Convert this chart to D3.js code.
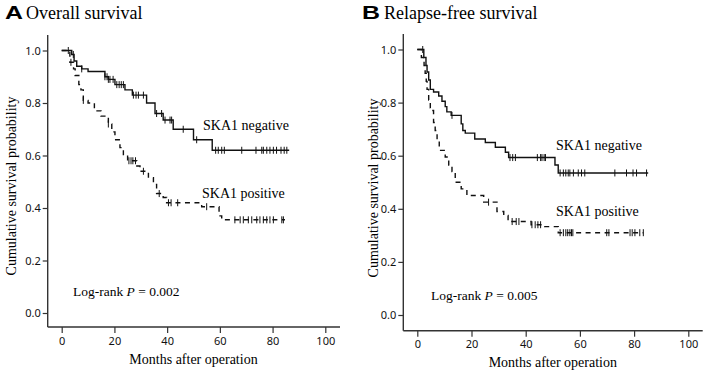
<!DOCTYPE html>
<html><head><meta charset="utf-8">
<script src="https://cdn.jsdelivr.net/npm/d3@7"></script>
<style>
html,body{margin:0;padding:0;background:#fff;}
svg{display:block;}
</style></head>
<body>
<svg id="chart" width="709" height="374"></svg>
<script>
// ---------- DATA ----------
const xTicks = [0, 20, 40, 60, 80, 100];
const yTicks = [0.0, 0.2, 0.4, 0.6, 0.8, 1.0];

// Panel A: Overall survival
const aNegTime = [0, 3.8, 4.7, 5.7, 7.6, 10, 16.4, 17.7, 20.2, 24, 26.8, 32.2, 35.4, 38.5, 42.3, 50, 57.1, 86.3];
const aNegSurv = [1.0, 0.985, 0.96, 0.94, 0.93, 0.92, 0.90, 0.89, 0.87, 0.85, 0.83, 0.80, 0.76, 0.735, 0.70, 0.66, 0.62, 0.62];
const aNegCens = [2.5, 4.4, 7.6, 16.4, 17.2, 17.7, 18.3, 19.5, 20.9, 21.8, 22.6, 23.4, 27.2, 28.2, 29.1, 31, 36, 37.9, 39.2, 41.1, 41.7, 46.1, 51.2,
                  58.4, 59.4, 60.7, 61.7, 68.3, 73.7, 75.9, 76.5, 77.8, 79, 80.3, 81.5, 83.2, 84.4, 85.4];
const aPosTime = [0, 3.1, 4.5, 5.1, 6.5, 7.3, 8.2, 10, 12.4, 14.9, 17.7, 19, 20.2, 22.1, 23.4, 25, 28.5, 29.7, 32.9, 34.8, 36, 38.5, 39.8, 53.1, 59.7, 60.7, 84.7];
const aPosSurv = [1.0, 0.955, 0.93, 0.905, 0.87, 0.85, 0.81, 0.80, 0.77, 0.75, 0.72, 0.69, 0.66, 0.63, 0.60, 0.58, 0.56, 0.54, 0.515, 0.49, 0.455, 0.44, 0.42, 0.405, 0.37, 0.355, 0.355];
const aPosCens = [3.5, 8.2, 17.7, 25.5, 26.3, 27, 28, 31, 37, 40.5, 41.5, 44, 55,
                  65.7, 67.7, 68.9, 70.8, 72.1, 74, 75.2, 76.5, 77.8, 79, 80.3, 83.5, 84.1];

// Panel B: Relapse-free survival
const bNegTime = [0, 2.4, 3.2, 3.6, 4.2, 4.8, 6, 7.9, 9.1, 10.3, 10.9, 12.5, 16.2, 16.8, 17.7, 21.2, 25.1, 28.8, 32.5, 33.7, 50.8, 52, 85.2];
const bNegSurv = [1.0, 0.97, 0.94, 0.915, 0.885, 0.85, 0.84, 0.825, 0.805, 0.785, 0.765, 0.752, 0.72, 0.695, 0.685, 0.663, 0.65, 0.632, 0.613, 0.593, 0.565, 0.535, 0.535];
const bNegCens = [2.0, 12.8, 34.2, 35.2, 36.2, 44.3, 45.5, 46, 46.8, 47.3,
                  52.7, 53.9, 54.8, 55.7, 56.3, 57.6, 59.4, 60.6, 61.8, 72.9, 77.2, 79.6, 80.9, 84.6];
const bPosTime = [0, 1.5, 2.5, 2.9, 3.3, 3.6, 4.2, 4.8, 5.4, 6, 6.6, 7.3, 8.1, 10.3, 11.6, 12.8, 14, 16.2, 18.3, 24.5, 29.4, 31.9, 33.5, 42, 47, 52, 83.4];
const bPosSurv = [1.0, 0.97, 0.94, 0.91, 0.88, 0.85, 0.81, 0.78, 0.77, 0.725, 0.695, 0.66, 0.62, 0.595, 0.565, 0.54, 0.50, 0.475, 0.45, 0.425, 0.39, 0.375, 0.352, 0.34, 0.333, 0.31, 0.31];
const bPosCens = [26.3, 35, 36.5, 37.5, 42.3, 43.5, 44.5, 45.5,
                  52.7, 53.9, 54.8, 55.5, 56.3, 56.9, 57.4, 69.9, 70.7, 78.5, 79.3, 80.3, 82.1, 83.4];

const panels = [
  { letter: "A", title: "Overall survival", p: "0.002",
    xr: [61.7, 325.3], yr: [313, 50.5], axX: 47.7, axXEnd: 340, axYTop: 35, axYBot: 327,
    ylabX: 16, ylabY: 186, xlabY: 364, logX: 73, logY: 296,
    negLab: [203, 130], posLab: [202, 198],
    neg: [aNegTime, aNegSurv, aNegCens], pos: [aPosTime, aPosSurv, aPosCens],
    titleX: 5, titleTextX: 26 },
  { letter: "B", title: "Relapse-free survival", p: "0.005",
    xr: [417.3, 688.3], yr: [315, 49.5], axX: 403.3, axXEnd: 702.7, axYTop: 34, axYBot: 330.7,
    ylabX: 378, ylabY: 188, xlabY: 367, logX: 431, logY: 300,
    negLab: [556, 150], posLab: [556, 216],
    neg: [bNegTime, bNegSurv, bNegCens], pos: [bPosTime, bPosSurv, bPosCens],
    titleX: 362, titleTextX: 384 }
];

const svg = d3.select("#chart");
const serif = "'Liberation Serif', 'Times New Roman', serif";
const sans = "'Noto Sans', 'Open Sans', sans-serif";
const axisColor = "#333";

panels.forEach(P => {
  const x = d3.scaleLinear().domain([0, 100]).range(P.xr);
  const y = d3.scaleLinear().domain([0, 1]).range(P.yr);
  const g = svg.append("g");

  // title
  g.append("text").attr("x", P.titleX).attr("y", 18.5)
    .attr("font-family", "'Liberation Sans', Arial, sans-serif").attr("font-weight", "bold")
    .attr("font-size", 19).attr("textLength", 18).attr("lengthAdjust", "spacingAndGlyphs")
    .text(P.letter);
  g.append("text").attr("x", P.titleTextX).attr("y", 18.5)
    .attr("font-family", serif).attr("font-size", 18).text(P.title);

  // axes lines
  g.append("line").attr("x1", P.axX).attr("x2", P.axX).attr("y1", P.axYTop).attr("y2", P.axYBot)
    .attr("stroke", axisColor).attr("stroke-width", 1.4);
  g.append("line").attr("x1", P.axX).attr("x2", P.axXEnd).attr("y1", P.axYBot).attr("y2", P.axYBot)
    .attr("stroke", axisColor).attr("stroke-width", 1.4);

  // x axis ticks
  const xa = g.append("g").attr("transform", `translate(0,${P.axYBot})`)
    .call(d3.axisBottom(x).tickValues(xTicks).tickFormat(d3.format("d")).tickSize(6).tickSizeOuter(0).tickPadding(4));
  xa.select(".domain").remove();
  xa.selectAll("line").attr("stroke", axisColor).attr("stroke-width", 1.2);
  xa.selectAll("text").attr("font-family", sans).attr("font-size", 11).attr("fill", "#111");

  // y axis ticks
  const ya = g.append("g").attr("transform", `translate(${P.axX},0)`)
    .call(d3.axisLeft(y).tickValues(yTicks).tickFormat(d3.format(".1f")).tickSize(5).tickSizeOuter(0).tickPadding(2));
  ya.select(".domain").remove();
  ya.selectAll("line").attr("stroke", axisColor).attr("stroke-width", 1.2);
  ya.selectAll("text").attr("font-family", sans).attr("font-size", 11).attr("fill", "#111");

  // axis labels
  g.append("text").attr("transform", `translate(${P.ylabX},${P.ylabY}) rotate(-90)`)
    .attr("text-anchor", "middle").attr("font-family", serif).attr("font-size", 14)
    .text("Cumulative survival probability");
  g.append("text").attr("x", (P.xr[0] + P.xr[1]) / 2).attr("y", P.xlabY)
    .attr("text-anchor", "middle").attr("font-family", serif).attr("font-size", 14)
    .text("Months after operation");

  // curves
  const line = d3.line().x(d => x(d[0])).y(d => y(d[1])).curve(d3.curveStepAfter);
  const drawCurve = (arr, dashed) => {
    const [t, s, c] = arr;
    const pts = t.map((v, i) => [v, s[i]]);
    g.append("path").datum(pts).attr("d", line).attr("fill", "none")
      .attr("stroke", "#111").attr("stroke-width", 1.4)
      .attr("stroke-dasharray", dashed ? "5,4.5" : null);
    const survAt = tt => { let v = s[0]; for (let i = 0; i < t.length; i++) { if (t[i] <= tt) v = s[i]; } return v; };
    g.selectAll(null).data(c).enter().append("line")
      .attr("x1", d => x(d)).attr("x2", d => x(d))
      .attr("y1", d => y(survAt(d)) - 3.5).attr("y2", d => y(survAt(d)) + 3.5)
      .attr("stroke", "#111").attr("stroke-width", 1);
  };
  drawCurve(P.neg, false);
  drawCurve(P.pos, true);

  // curve labels
  g.append("text").attr("x", P.negLab[0]).attr("y", P.negLab[1])
    .attr("font-family", serif).attr("font-size", 14).text("SKA1 negative");
  g.append("text").attr("x", P.posLab[0]).attr("y", P.posLab[1])
    .attr("font-family", serif).attr("font-size", 14).text("SKA1 positive");

  // log-rank
  const lt = g.append("text").attr("x", P.logX).attr("y", P.logY)
    .attr("font-family", serif).attr("font-size", 13.5);
  lt.append("tspan").text("Log-rank ");
  lt.append("tspan").attr("font-style", "italic").text("P");
  lt.append("tspan").text(" = " + P.p);
});
</script>
</body></html>
